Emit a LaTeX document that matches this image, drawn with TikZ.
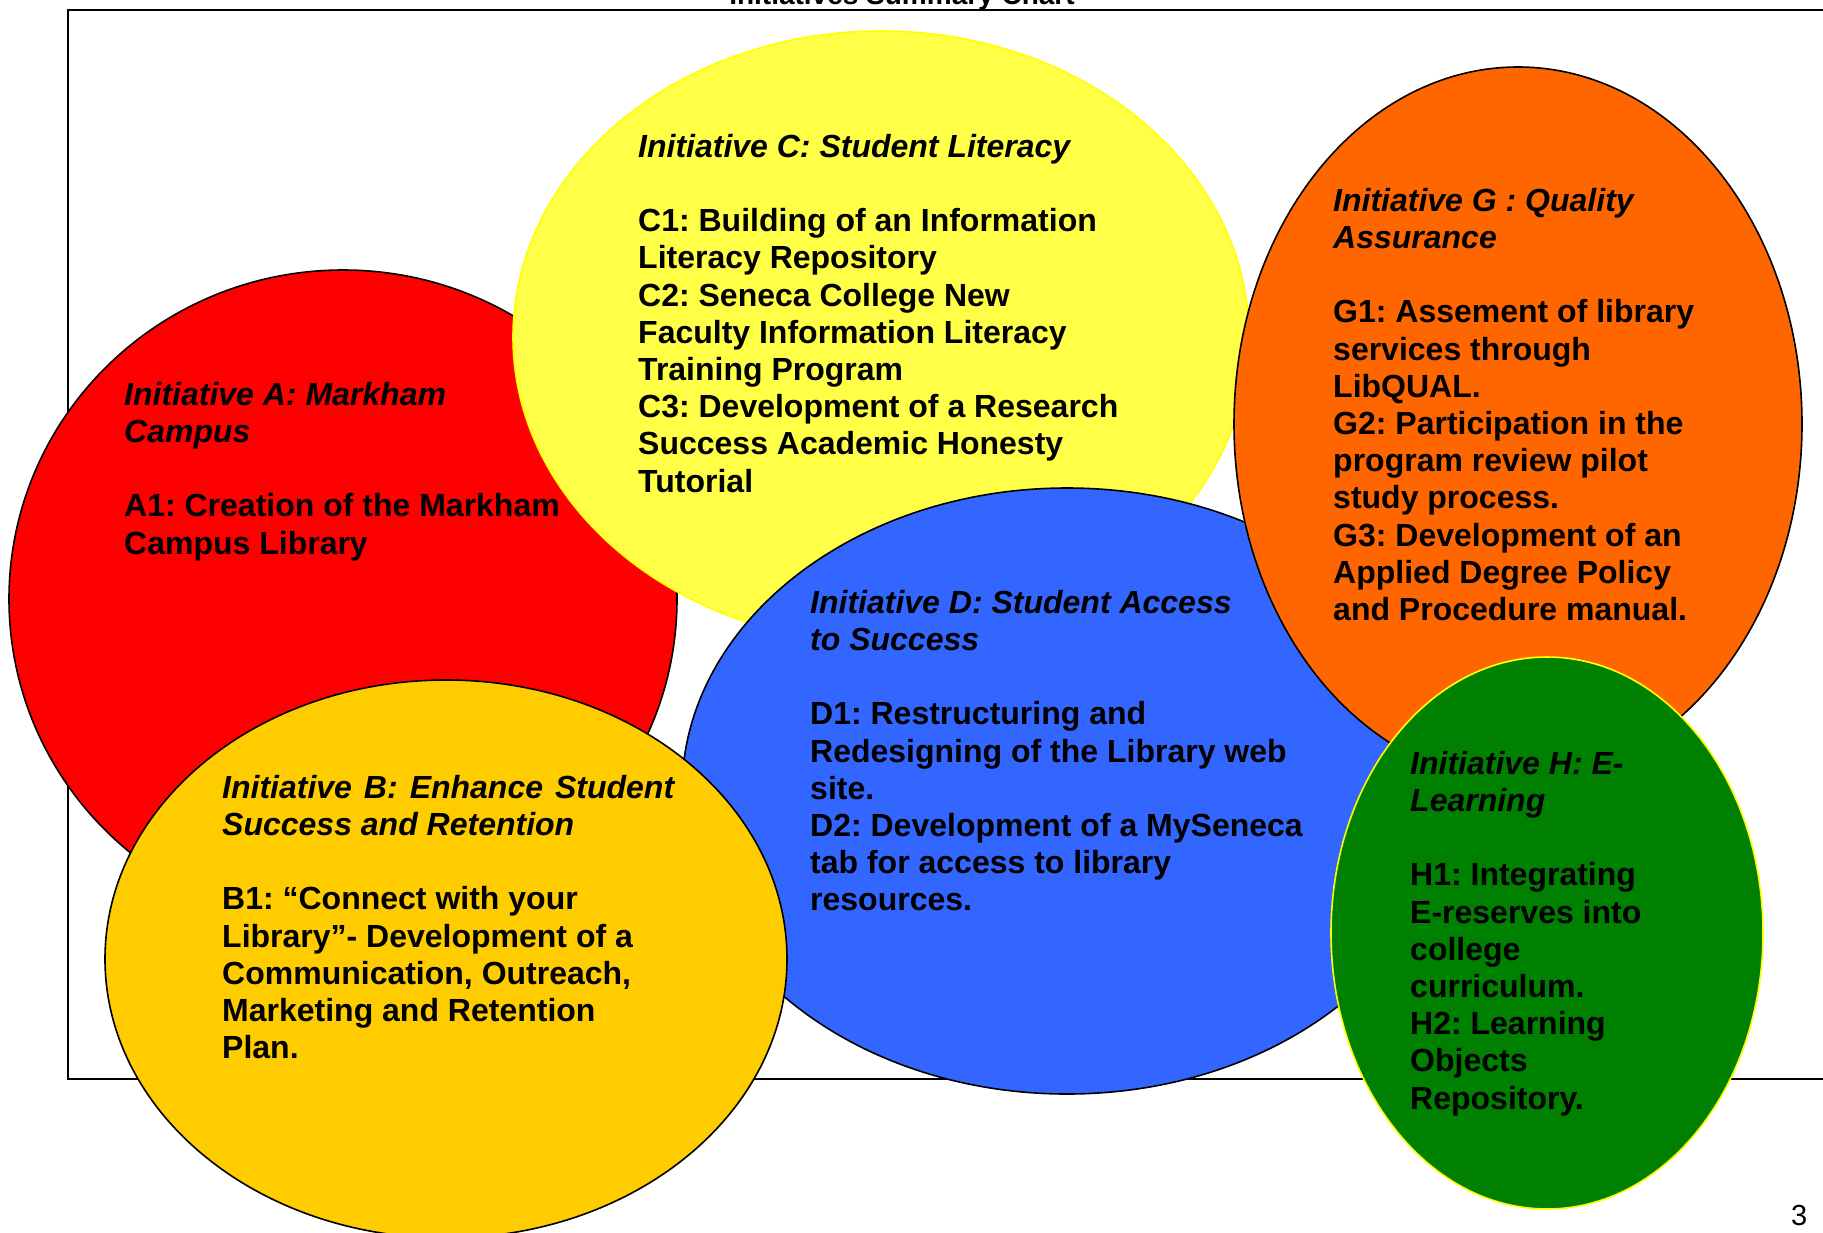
\documentclass[tikz,border=0pt]{standalone}
\usepackage{fontspec}
\setmainfont{Liberation Sans}
\usetikzlibrary{shapes.geometric}
\frenchspacing
\definecolor{cA}{HTML}{FF0000}
\definecolor{cC}{HTML}{FFFF47}
\definecolor{cCline}{HTML}{FFFF00}
\definecolor{cD}{HTML}{3366FF}
\definecolor{cB}{HTML}{FFCC00}
\definecolor{cG}{HTML}{FF6600}
\definecolor{cH}{HTML}{008000}
\tikzset{
  blob/.style={ellipse, inner sep=0pt, outer sep=0pt, line width=1.6pt},
  txt/.style={anchor=north west, inner sep=0pt, align=left,
    font=\fontsize{32}{37.2}\selectfont\bfseries},
  frame/.style={line width=2.5pt}
}
\begin{document}
\frenchspacing
\begin{tikzpicture}[x=1pt,y=-1pt]
\useasboundingbox (0,0) rectangle (1823,1232);
% frame and title
\draw[frame] (1840,10) -- (68,10) -- (68,1079) -- (1840,1079);
\node[anchor=base, inner sep=0pt, font=\fontsize{28}{32}\selectfont\bfseries] (title) at (902,4) {Initiatives Summary Chart};
% ellipses
\node[blob, draw=black, fill=cA, minimum width=668pt, minimum height=658pt] (eA) at (343,599) {};
\node[blob, draw=cCline, fill=cC, minimum width=736pt, minimum height=612pt] (eC) at (881,337) {};
\node[blob, draw=black, fill=cD, minimum width=770pt, minimum height=606pt] (eD) at (1067,791) {};
\node[blob, draw=black, fill=cB, minimum width=682pt, minimum height=558pt] (eB) at (446,959) {};
\node[blob, draw=black, fill=cG, minimum width=568pt, minimum height=714pt] (eG) at (1518,424) {};
\node[blob, draw=cCline, fill=cH, minimum width=432pt, minimum height=552pt] (eH) at (1547,933) {};
% texts
\node[txt] (tA) at (124,379) {\strut\textit{Initiative A: Markham}\\\textit{Campus}\\[37.2pt]A1: Creation of the Markham\\Campus Library};
\node[txt] (tC) at (638,131) {\strut\textit{Initiative C: Student Literacy}\\[37.2pt]C1: Building of an Information\\Literacy Repository\\C2: Seneca College New\\Faculty Information Literacy\\Training Program\\C3: Development of a Research\\Success Academic Honesty\\Tutorial};
\node[txt] (tG) at (1333,185) {\strut\textit{Initiative G : Quality}\\\textit{Assurance}\\[37.2pt]G1: Assement of library\\services through\\LibQUAL.\\G2: Participation in the\\program review pilot\\study process.\\G3: Development of an\\Applied Degree Policy\\and Procedure manual.};
\node[txt] (tD) at (810,587) {\strut\textit{Initiative D: Student Access}\\\textit{to Success}\\[37.2pt]D1: Restructuring and\\Redesigning of the Library web\\site.\\D2: Development of a MySeneca\\tab for access to library\\resources.};
\node[txt] (tB) at (222,772) {\strut\makebox[452pt][s]{\itshape Initiative B: Enhance Student}\\\textit{Success and Retention}\\[37.2pt]B1: “Connect with your\\Library”- Development of a\\Communication, Outreach,\\Marketing and Retention\\Plan.};
\node[txt] (tH) at (1410,748) {\strut\textit{Initiative H: E-}\\\textit{Learning}\\[37.2pt]H1: Integrating\\E-reserves into\\college\\curriculum.\\H2: Learning\\Objects\\Repository.};
% page number
\node[anchor=base west, inner sep=0pt, font=\fontsize{29}{33}\selectfont] (pg) at (1791,1225) {3};
\end{tikzpicture}
\end{document}
